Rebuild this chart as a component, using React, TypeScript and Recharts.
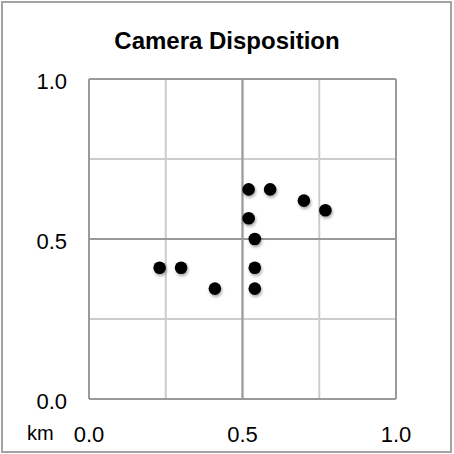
import React from "react";
import { ScatterChart, Scatter, XAxis, YAxis, CartesianGrid, ReferenceLine } from "recharts";

const xValues = [0.52, 0.59, 0.70, 0.77, 0.52, 0.54, 0.23, 0.30, 0.41, 0.54, 0.54];
const yValues = [0.655, 0.655, 0.62, 0.59, 0.565, 0.50, 0.41, 0.41, 0.345, 0.41, 0.345];
const xTicks = [0, 0.5, 1];
const yTicks = [0, 0.5, 1];
const gridTicks = [0, 0.25, 0.5, 0.75, 1];
const title = "Camera Disposition";
const unitLabel = "km";

const data = xValues.map((x, i) => ({ x, y: yValues[i] }));

const FONT = "'Liberation Sans', Arial, sans-serif";

const YTick = (props: any) => {
  const { x, y, payload } = props;
  return (
    <text x={x - 22} y={y + 10} textAnchor="end" fontSize={22} fontFamily={FONT} fill="#000">
      {Number(payload.value).toFixed(1)}
    </text>
  );
};

const XTick = (props: any) => {
  const { x, y, payload } = props;
  return (
    <text x={x} y={y + 43} textAnchor="middle" fontSize={22} fontFamily={FONT} fill="#000">
      {Number(payload.value).toFixed(1)}
    </text>
  );
};

const Dot = (props: any) => {
  const { cx, cy } = props;
  return (
    <circle
      cx={cx}
      cy={cy}
      r={6.3}
      fill="#000"
      style={{ filter: "drop-shadow(1px 2px 1.5px rgba(0,0,0,0.35))" }}
    />
  );
};

export default function App() {
  return (
    <div style={{ position: "absolute", left: 0, top: 0, width: 454, height: 454, background: "#fff" }}>
      <div
        style={{
          position: "absolute",
          left: 1,
          top: 1,
          width: 447,
          height: 448,
          border: "2px solid #a3a3a3",
          boxSizing: "content-box",
        }}
      />
      <div
        style={{
          position: "absolute",
          left: 0,
          width: 454,
          top: 27,
          textAlign: "center",
          fontFamily: FONT,
          fontWeight: "bold",
          fontSize: 24,
          lineHeight: "28px",
          color: "#000",
        }}
      >
        {title}
      </div>
      <div
        style={{
          position: "absolute",
          left: 27,
          top: 422,
          fontFamily: FONT,
          fontSize: 20,
          lineHeight: "22px",
          color: "#000",
        }}
      >
        {unitLabel}
      </div>
      <div style={{ position: "absolute", left: 0, top: 0 }}>
        <ScatterChart width={454} height={454} margin={{ top: 79, right: 58, bottom: 15, left: 0 }}>
          <CartesianGrid
            stroke="#cccccc"
            strokeWidth={2}
            horizontalValues={gridTicks}
            verticalValues={gridTicks}
          />
          <XAxis
            type="number"
            dataKey="x"
            domain={[0, 1]}
            ticks={xTicks}
            height={40}
            axisLine={false}
            tickLine={false}
            tickSize={0}
            tickMargin={0}
            tick={<XTick />}
            interval={0}
          />
          <YAxis
            type="number"
            dataKey="y"
            domain={[0, 1]}
            ticks={yTicks}
            width={89}
            axisLine={false}
            tickLine={false}
            tickSize={0}
            tickMargin={0}
            tick={<YTick />}
            interval={0}
          />
          <ReferenceLine x={0.5} stroke="#9a9a9a" strokeWidth={2} />
          <ReferenceLine y={0.5} stroke="#9a9a9a" strokeWidth={2} />
          <ReferenceLine x={0} stroke="#9a9a9a" strokeWidth={2} />
          <ReferenceLine x={1} stroke="#9a9a9a" strokeWidth={2} />
          <ReferenceLine y={0} stroke="#9a9a9a" strokeWidth={2} />
          <ReferenceLine y={1} stroke="#9a9a9a" strokeWidth={2} />
          <Scatter data={data} shape={<Dot />} isAnimationActive={false} />
        </ScatterChart>
      </div>
    </div>
  );
}
